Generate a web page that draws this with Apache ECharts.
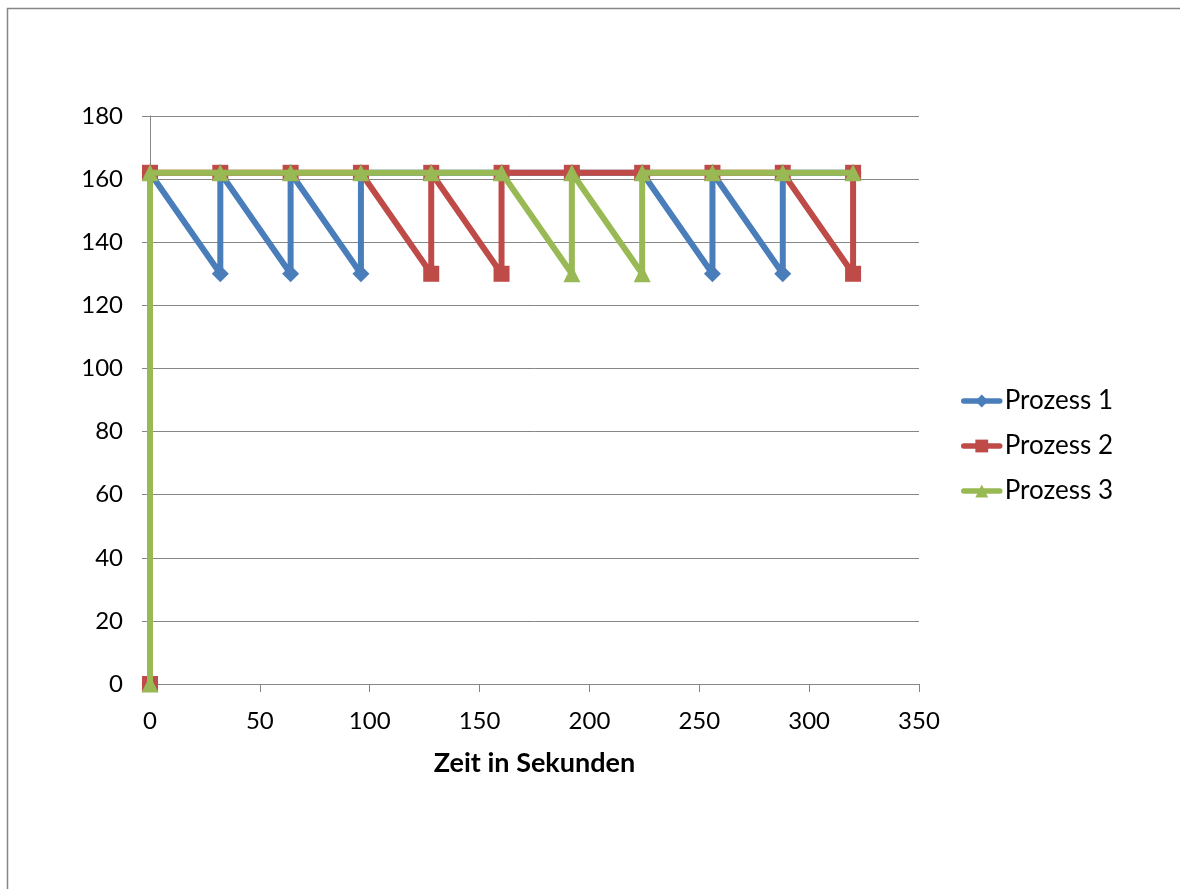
<!DOCTYPE html>
<html>
<head>
<meta charset="utf-8">
<script src="https://cdn.jsdelivr.net/npm/echarts@6/dist/echarts.min.js"></script>
<style>
  html, body { margin: 0; padding: 0; background: #fff; }
  #chart { width: 1180px; height: 889px; }
</style>
</head>
<body>
<div id="chart"></div>
<script>
// Round-robin time slices (seconds) and remaining values per process
const seriesNames = ['Prozess 1', 'Prozess 2', 'Prozess 3'];

const p1Time  = [0, 0,   32,  32,  64,  64,  96,  96,  128, 160, 192, 224, 256, 256, 288, 288, 320];
const p1Value = [0, 162, 130, 162, 130, 162, 130, 162, 162, 162, 162, 162, 130, 162, 130, 162, 162];

const p2Time  = [0, 0,   32,  64,  96,  128, 128, 160, 160, 192, 224, 256, 288, 320, 320];
const p2Value = [0, 162, 162, 162, 162, 130, 162, 130, 162, 162, 162, 162, 162, 130, 162];

const p3Time  = [0, 0,   32,  64,  96,  128, 160, 192, 192, 224, 224, 256, 288, 320];
const p3Value = [0, 162, 162, 162, 162, 162, 162, 130, 162, 130, 162, 162, 162, 162];

const xAxisTitle = 'Zeit in Sekunden';

const colors = ['#4A7EBB', '#BE4B48', '#98B954'];
const symbols = ['diamond', 'rect', 'triangle'];
const symbolSizes = [17, 16, 17];

const pairs = (xs, ys) => xs.map((x, i) => [x, ys[i]]);
const seriesData = [pairs(p1Time, p1Value), pairs(p2Time, p2Value), pairs(p3Time, p3Value)];

const font = 'Lato, "Open Sans", sans-serif';

const chart = echarts.init(document.getElementById('chart'), null, { renderer: 'canvas' });

chart.setOption({
  animation: false,
  backgroundColor: '#fff',
  textStyle: { fontFamily: font },
  graphic: [{
    type: 'rect',
    shape: { x: 7.5, y: 8.5, width: 1300, height: 1000 },
    style: { fill: 'none', stroke: '#868686', lineWidth: 1.5 },
    silent: true
  }],
  grid: { left: 150, right: 261, top: 116, bottom: 205 },
  legend: {
    orient: 'vertical',
    left: 956,
    top: 383,
    itemGap: 19,
    itemWidth: 36,
    itemHeight: 16,
    lineStyle: { width: 5.5 },
    textStyle: { fontFamily: font, fontSize: 26, color: '#000' },
    data: seriesNames
  },
  xAxis: {
    type: 'value',
    min: 0, max: 350, interval: 50,
    name: xAxisTitle,
    nameLocation: 'middle',
    nameGap: 66,
    nameTextStyle: { fontFamily: font, fontSize: 27, fontWeight: 'bold', color: '#000' },
    axisLine: { show: true, onZero: false, lineStyle: { color: '#868686', width: 1 } },
    axisTick: { show: true, inside: false, length: 8, lineStyle: { color: '#868686' } },
    axisLabel: { fontFamily: font, fontSize: 24, color: '#000', margin: 25 },
    splitLine: { show: false }
  },
  yAxis: {
    type: 'value',
    min: 0, max: 180, interval: 20,
    axisLine: { show: true, lineStyle: { color: '#868686', width: 1 } },
    axisTick: { show: true, inside: false, length: 8, lineStyle: { color: '#868686' } },
    axisLabel: { fontFamily: font, fontSize: 24, color: '#000', margin: 27 },
    splitLine: { show: true, lineStyle: { color: '#868686', width: 1 } }
  },
  series: seriesNames.map((name, i) => ({
    name,
    type: 'line',
    data: seriesData[i],
    color: colors[i],
    symbol: symbols[i],
    symbolSize: symbolSizes[i],
    showAllSymbol: true,
    lineStyle: { width: 6, color: colors[i], cap: 'round', join: 'round' },
    itemStyle: { color: colors[i], borderWidth: 0 },
    emphasis: { disabled: true },
    z: 2 + i
  }))
});
</script>
</body>
</html>
